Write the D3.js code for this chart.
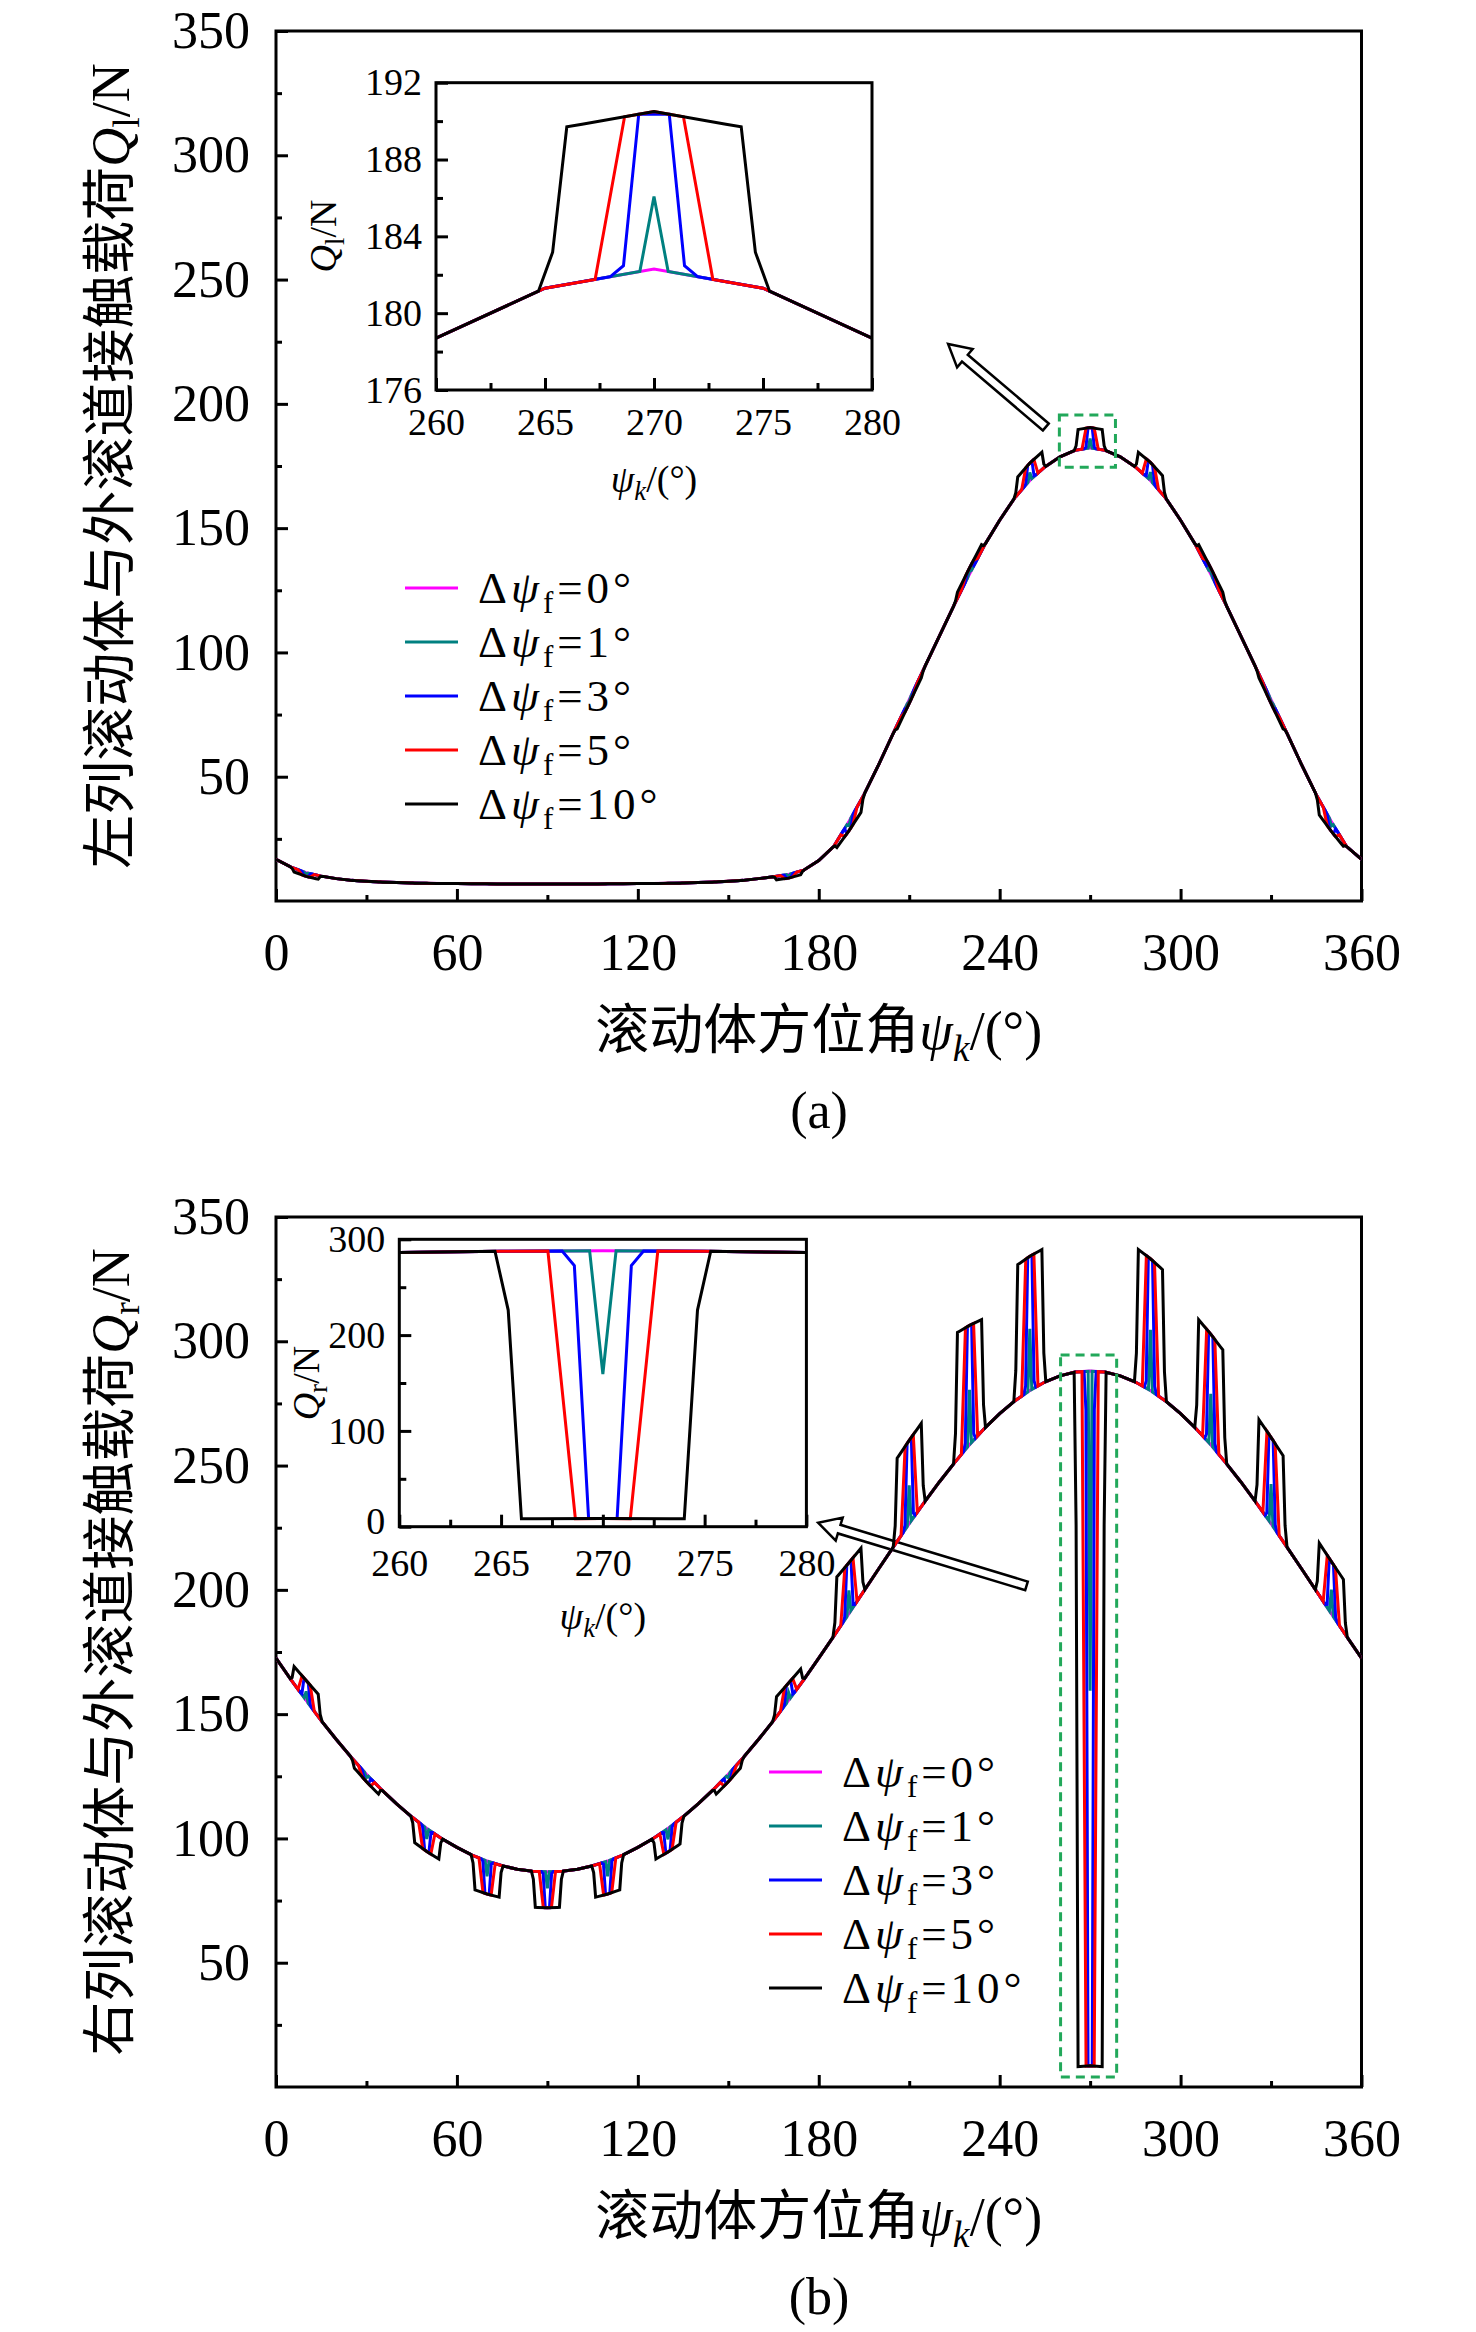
<!DOCTYPE html>
<html>
<head>
<meta charset="utf-8">
<script src="https://cdn.jsdelivr.net/npm/d3@7"></script>
<style>
  body { margin: 0; background: #fff; }
</style>
</head>
<body>
<svg id="fig" width="1476" height="2332"></svg>
<script>
// roller azimuth grid (deg)
const psiGrid = [0,5,10,15,20,25,30,35,40,45,50,55,
  60,65,70,75,80,85,90,95,100,105,110,115,
  120,125,130,135,140,145,150,155,160,165,170,175,
  180,185,190,195,200,205,210,215,220,225,230,235,
  240,245,250,255,260,265,270,275,280,285,290,295,
  300,305,310,315,320,325,330,335,340,345,350,355,
  360];

// load without fault, left row (a)
const leftBase = [16.8,13.6,11.4,10.0,9.0,8.3,7.9,7.6,7.4,7.2,7.1,7.0,
  7.0,6.9,6.9,6.8,6.8,6.8,6.8,6.8,6.8,6.8,6.9,6.9,
  7.0,7.0,7.1,7.2,7.4,7.6,7.9,8.3,9.0,9.8,10.7,12.4,
  16.3,22.0,32.0,42.8,55.2,68.2,81.0,93.8,106.6,119.3,131.5,143.2,
  153.2,162.2,169.2,174.6,178.7,181.3,182.3,181.3,178.7,174.6,169.2,162.2,
  153.2,143.2,131.5,119.3,106.6,93.8,81.0,68.2,55.2,42.8,32.0,22.0,
  16.8];

// load without fault, right row (b)
const rightBase = [172.5,163.8,155.5,147.4,139.8,132.6,125.8,119.6,113.9,108.7,104.0,99.9,
  96.4,93.3,90.9,89.0,87.6,86.8,86.6,86.8,87.6,89.0,90.9,93.3,
  96.4,99.9,104.0,108.7,113.9,119.6,125.8,132.6,139.8,147.4,155.5,163.8,
  172.5,181.4,190.4,199.6,208.7,217.7,226.6,235.2,243.4,251.1,258.4,265.0,
  270.9,276.0,280.2,283.6,286.1,287.6,288.0,287.6,286.1,283.6,280.2,276.0,
  270.9,265.0,258.4,251.1,243.4,235.2,226.6,217.7,208.7,199.6,190.4,181.4,
  172.5];

// roller positions where the load jumps
const rollerPos = [10,30,50,70,90,110,130,150,170,190,210,230,250,270,290,310,330,350];

// full load change at each roller [start, end] (N)
const leftShift = [[-1.5,-1.5],[0,0],[0,0],[0,0],[0,0],[0,0],[0,0],[0,0],[-1.5,-1.5],
  [-2.5,-5],[-1.5,-1.5],[2.5,2.5],[7,7],[8.2,8.2],[7,7.5],[2.5,2.5],[-1.5,-1.5],[-6,-2]];
const rightShift = [[7,9],[-3,-3],[-9.5,-9],[-13.5,-13],[-14.5,-14.5],[-13,-13.5],[-9,-10],[-3,-3],[8,6],
  [22,19],[33.5,33.5],[51,45],[54,54],[-279.5,-279.5],[54,52],[45,44],[35,34.5],[21,21]];

// series
const faultLabels = ["0°","1°","3°","5°","10°"];
const faultColors = ["#ff00ff","#008080","#0000ff","#ff0000","#000000"];
// edge shape of each series from the insets: [deg from roller, share of full change]
const edgeProfiles = [
  [],
  [[-0.65,0],[0,0.46],[0.65,0]],
  [[-2.0,0],[-1.4,0.055],[-0.7,1],[0.7,1],[1.4,0.055],[2.0,0]],
  [[-2.7,0],[-1.35,1],[0,1],[1.35,1],[2.7,0]],
  [[-5.3,0],[-4.65,0.22],[-4.0,1],[-3.3,1],[0,1],[3.3,1],[4.0,1],[4.65,0.22],[5.3,0]]
];

const xTicks = [0,60,120,180,240,300,360];
const xMinor = [30,90,150,210,270,330];
const yTicks = [50,100,150,200,250,300,350];
const yMinor = [25,75,125,175,225,275,325];
const insetXTicks = [260,265,270,275,280];
const insetXMinor = [262.5,267.5,272.5,277.5];

const serif = '"Liberation Serif", "Times New Roman", "Noto Sans CJK SC", serif';
const svg = d3.select("#fig");
const plotLeft = 276, plotRight = 1361.5;

const panels = [
  { top: 31, bottom: 901, base: leftBase, shift: leftShift,
    title: "左列滚动体与外滚道接触载荷", sub: "l", caption: "(a)",
    inset: { left: 436, right: 872, top: 82.7, bottom: 390, yDomain: [176,192],
             yTicks: [176,180,184,188,192], yMinor: [178,182,186,190], tx: 323, ty: 236, lift0: 0 },
    legend: { x: 405, y: 588 },
    box: [259.8, 278.4, 174.5, 195.5],
    arrow: { tail: [255.3, 190.7], tip: [222.9, 224.1] } },
  { top: 1217, bottom: 2087, base: rightBase, shift: rightShift,
    title: "右列滚动体与外滚道接触载荷", sub: "r", caption: "(b)",
    inset: { left: 399.3, right: 806.4, top: 1239.3, bottom: 1526.7, yDomain: [0,300],
             yTicks: [0,100,200,300], yMinor: [50,150,250], tx: 306, ty: 1383, lift0: 5 },
    legend: { x: 769, y: 1772 },
    box: [260.2, 278.8, 4, 294.5],
    arrow: { tail: [248.9, 201.6], tip: [179.8, 227] } }
];

// splice the roller jumps of one series into the base curve
function buildSeries(base, shift, profile) {
  const pts = psiGrid.map((p, i) => [p, base[i]]);
  if (!profile.length) return pts;
  const baseAt = d3.scaleLinear().domain(psiGrid).range(base);
  const lo = profile[0][0], hi = profile[profile.length - 1][0];
  const out = pts.filter(([p]) => !rollerPos.some(c => p > c + lo && p < c + hi));
  rollerPos.forEach((c, k) => {
    const [s0, s1] = shift[k];
    profile.forEach(([d, f]) => {
      const t = Math.max(0, Math.min(1, (d + 4) / 8));
      out.push([c + d, baseAt(c + d) + f * (s0 + (s1 - s0) * t)]);
    });
  });
  return out.sort((a, b) => a[0] - b[0]);
}

function styleAxis(g, size) {
  g.attr("font-family", null).attr("font-size", null);
  g.select(".domain").remove();
  g.selectAll("line").attr("stroke", "#000").attr("stroke-width", 3);
  g.selectAll("text").attr("font-family", serif).attr("font-size", size).attr("fill", "#000");
}

function drawTicks(g, x, y, box, o) {
  g.append("g").attr("transform", `translate(0,${box.bottom})`)
    .call(d3.axisBottom(x).tickValues(o.xt).tickSize(-o.big).tickSizeOuter(0).tickPadding(o.xpad).tickFormat(d3.format("d")))
    .call(a => styleAxis(a, o.font));
  g.append("g").attr("transform", `translate(0,${box.bottom})`)
    .call(d3.axisBottom(x).tickValues(o.xm).tickSize(-o.small).tickSizeOuter(0).tickFormat(""))
    .call(a => styleAxis(a, o.font));
  const ya = g.append("g").attr("transform", `translate(${box.left},0)`)
    .call(d3.axisLeft(y).tickValues(o.yt).tickSize(-o.big).tickSizeOuter(0).tickPadding(o.ypad).tickFormat(d3.format("d")))
    .call(a => styleAxis(a, o.font));
  if (o.lift0) {
    // keep the lowest y label clear of the first x label
    ya.selectAll(".tick").filter(d => d === o.yt[0]).select("text").attr("y", -o.lift0);
  }
  g.append("g").attr("transform", `translate(${box.left},0)`)
    .call(d3.axisLeft(y).tickValues(o.ym).tickSize(-o.small).tickSizeOuter(0).tickFormat(""))
    .call(a => styleAxis(a, o.font));
  g.append("rect").attr("x", box.left).attr("y", box.top)
    .attr("width", box.right - box.left).attr("height", box.bottom - box.top)
    .attr("fill", "none").attr("stroke", "#000").attr("stroke-width", 3);
}

function psiText(t, size) {
  t.append("tspan").attr("font-style", "italic").text("ψ");
  t.append("tspan").attr("font-style", "italic").attr("font-size", size * 0.7).attr("dy", size * 0.22).text("k");
  t.append("tspan").attr("dy", -size * 0.22).text("/(°)");
}

function loadText(t, size, sub) {
  t.append("tspan").attr("font-style", "italic").text("Q");
  t.append("tspan").attr("font-size", size * 0.7).attr("dy", size * 0.2).text(sub);
  t.append("tspan").attr("dy", -size * 0.2).text("/N");
}

function blockArrow(g, x, y, tail, tip) {
  const x0 = x(tail[0]), y0 = y(tail[1]), x1 = x(tip[0]), y1 = y(tip[1]);
  const len = Math.hypot(x1 - x0, y1 - y0);
  const ux = (x1 - x0) / len, uy = (y1 - y0) / len, nx = -uy, ny = ux;
  const hl = 22, hw = 12, sw = 4.5;
  const bx = x1 - ux * hl, by = y1 - uy * hl;
  const pts = [[x0 + nx * sw, y0 + ny * sw], [bx + nx * sw, by + ny * sw], [bx + nx * hw, by + ny * hw],
    [x1, y1], [bx - nx * hw, by - ny * hw], [bx - nx * sw, by - ny * sw], [x0 - nx * sw, y0 - ny * sw]];
  g.append("polygon").attr("points", pts.map(p => p.join(",")).join(" "))
    .attr("fill", "#fff").attr("stroke", "#000").attr("stroke-width", 2.5).attr("stroke-linejoin", "miter");
}

panels.forEach((P, pi) => {
  const g = svg.append("g");
  const x = d3.scaleLinear().domain([0, 360]).range([plotLeft, plotRight]);
  const y = d3.scaleLinear().domain([0, 350]).range([P.bottom, P.top]);
  const box = { left: plotLeft, right: plotRight, top: P.top, bottom: P.bottom };
  const series = edgeProfiles.map(prof => buildSeries(P.base, P.shift, prof));

  drawTicks(g, x, y, box, { xt: xTicks, xm: xMinor, yt: yTicks, ym: yMinor,
    big: 12, small: 6, font: 52, xpad: 32, ypad: 26 });

  svg.append("clipPath").attr("id", "clipMain" + pi).append("rect")
    .attr("x", box.left).attr("y", box.top).attr("width", box.right - box.left).attr("height", box.bottom - box.top);

  blockArrow(g, x, y, P.arrow.tail, P.arrow.tip);

  const line = d3.line().x(d => x(d[0])).y(d => y(d[1]));
  g.append("g").attr("clip-path", `url(#clipMain${pi})`)
    .selectAll("path").data(series).join("path")
    .attr("d", line).attr("fill", "none")
    .attr("stroke", (d, i) => faultColors[i]).attr("stroke-width", 3)
    .attr("stroke-linejoin", "miter");

  // dashed zoom box
  g.append("rect")
    .attr("x", x(P.box[0])).attr("y", y(P.box[3]))
    .attr("width", x(P.box[1]) - x(P.box[0])).attr("height", y(P.box[2]) - y(P.box[3]))
    .attr("fill", "none").attr("stroke", "#22a85a").attr("stroke-width", 3).attr("stroke-dasharray", "9,6");

  // inset
  const I = P.inset;
  const ix = d3.scaleLinear().domain([260, 280]).range([I.left, I.right]);
  const iy = d3.scaleLinear().domain(I.yDomain).range([I.bottom, I.top]);
  const ig = g.append("g");
  ig.append("rect").attr("x", I.left).attr("y", I.top).attr("width", I.right - I.left)
    .attr("height", I.bottom - I.top).attr("fill", "#fff");
  svg.append("clipPath").attr("id", "clipInset" + pi).append("rect")
    .attr("x", I.left).attr("y", I.top).attr("width", I.right - I.left).attr("height", I.bottom - I.top);
  const iline = d3.line().x(d => ix(d[0])).y(d => iy(d[1]));
  ig.append("g").attr("clip-path", `url(#clipInset${pi})`)
    .selectAll("path").data(series).join("path")
    .attr("d", iline).attr("fill", "none")
    .attr("stroke", (d, i) => faultColors[i]).attr("stroke-width", 3)
    .attr("stroke-linejoin", "miter");
  drawTicks(ig, ix, iy, I, { xt: insetXTicks, xm: insetXMinor, yt: I.yTicks, ym: I.yMinor,
    big: 12, small: 7, font: 38, xpad: I.lift0 ? 22 : 18, ypad: 14, lift0: I.lift0 });

  const ixt = ig.append("text").attr("x", (I.left + I.right) / 2).attr("y", I.bottom + 102)
    .attr("text-anchor", "middle").attr("font-family", serif).attr("font-size", 38);
  psiText(ixt, 38);
  const iyt = ig.append("text").attr("text-anchor", "middle").attr("font-family", serif).attr("font-size", 38)
    .attr("transform", `translate(${I.tx},${I.ty}) rotate(-90)`).attr("dy", "0.35em");
  loadText(iyt, 38, P.sub);

  // legend
  const lg = g.append("g");
  faultLabels.forEach((lab, i) => {
    const ly = P.legend.y + i * 54;
    lg.append("line").attr("x1", P.legend.x).attr("x2", P.legend.x + 53)
      .attr("y1", ly).attr("y2", ly).attr("stroke", faultColors[i]).attr("stroke-width", 3);
    const t = lg.append("text").attr("x", P.legend.x + 73).attr("y", ly + 15)
      .attr("font-family", serif).attr("font-size", 45).attr("letter-spacing", 4);
    t.append("tspan").text("Δ");
    t.append("tspan").attr("font-style", "italic").text("ψ");
    t.append("tspan").attr("font-size", 31).attr("dy", 10).text("f");
    t.append("tspan").attr("dy", -10).text("=" + lab);
  });

  // axis titles
  const xt = g.append("text").attr("x", (plotLeft + plotRight) / 2).attr("y", P.bottom + 148)
    .attr("text-anchor", "middle").attr("font-family", serif).attr("font-size", 54);
  xt.append("tspan").text("滚动体方位角");
  psiText(xt, 54);

  const yt = g.append("text").attr("text-anchor", "middle").attr("font-family", serif).attr("font-size", 54)
    .attr("transform", `translate(108,${(P.top + P.bottom) / 2}) rotate(-90)`).attr("dy", "0.38em");
  yt.append("tspan").text(P.title);
  loadText(yt, 54, P.sub);

  g.append("text").attr("x", 819).attr("y", P.bottom + 227).attr("text-anchor", "middle")
    .attr("font-family", serif).attr("font-size", 52).text(P.caption);
});
</script>
</body>
</html>
